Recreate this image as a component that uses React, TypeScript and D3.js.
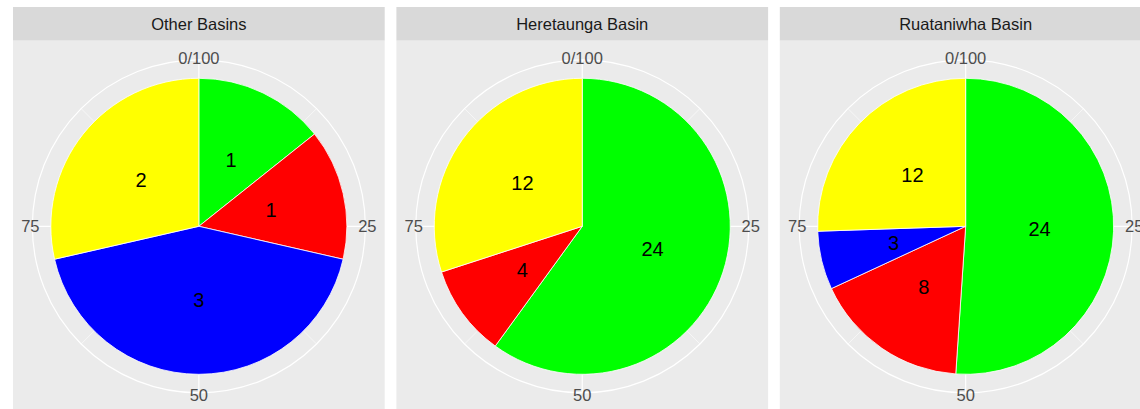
import React from "react";
import * as d3 from "d3";

const facets = ["Other Basins", "Heretaunga Basin", "Ruataniwha Basin"];
const categories = ["Green", "Red", "Blue", "Yellow"];
const categoryColors = ["#00FF00", "#FF0000", "#0000FF", "#FFFF00"];
const otherBasins = [1, 1, 3, 2];
const heretaunga = [24, 4, 0, 12];
const ruataniwha = [24, 8, 3, 12];
const facetValues = [otherBasins, heretaunga, ruataniwha];
const majorTicks = [0, 25, 50, 75];
const majorTickLabels = ["0/100", "25", "50", "75"];
const minorTicks = [12.5, 37.5, 62.5, 87.5];

const W = 1140;
const H = 409;
const panelX0 = 13;
const panelW = 371.7;
const panelGap = 11.7;
const stripTop = 7;
const stripBottom = 40.7;
const panelBottom = 412;
const cyPie = 226.3;
const pieR = 148;
const gridR = 166.5;
const labelR = 168.5;

export default function App() {
  const theta = d3.scaleLinear().domain([0, 100]).range([0, 2 * Math.PI]);
  const color = d3.scaleOrdinal<string, string>().domain(categories).range(categoryColors);
  const pie = d3
    .pie<{ cat: string; v: number }>()
    .sort(null)
    .value((d) => d.v)
    .startAngle(0)
    .endAngle(2 * Math.PI);
  const arc = d3.arc<d3.PieArcDatum<{ cat: string; v: number }>>().innerRadius(0).outerRadius(pieR);

  return (
    <svg
      width={W}
      height={H}
      style={{ position: "absolute", left: 0, top: 0, fontFamily: "'Liberation Sans', Arial, sans-serif" }}
    >
      <rect x={0} y={0} width={W} height={H} fill="#FFFFFF" />
      {facets.map((name, i) => {
        const x0 = panelX0 + i * (panelW + panelGap);
        const cx = x0 + panelW / 2;
        const data = categories.map((c, k) => ({ cat: c, v: facetValues[i][k] }));
        const arcs = pie(data);
        return (
          <g key={name}>
            <rect x={x0} y={stripTop} width={panelW} height={stripBottom - stripTop} fill="#D9D9D9" />
            <text
              x={cx}
              y={(stripTop + stripBottom) / 2}
              textAnchor="middle"
              dominantBaseline="central"
              fontSize={16.5}
              fill="#1A1A1A"
            >
              {name}
            </text>
            <rect x={x0} y={stripBottom} width={panelW} height={panelBottom - stripBottom} fill="#EBEBEB" />
            <g transform={`translate(${cx},${cyPie})`}>
              {minorTicks.map((t) => (
                <line
                  key={"mi" + t}
                  x1={0}
                  y1={0}
                  x2={gridR * Math.sin(theta(t))}
                  y2={-gridR * Math.cos(theta(t))}
                  stroke="#FFFFFF"
                  strokeWidth={0.6}
                />
              ))}
              {majorTicks.map((t) => (
                <line
                  key={"ma" + t}
                  x1={0}
                  y1={0}
                  x2={gridR * Math.sin(theta(t))}
                  y2={-gridR * Math.cos(theta(t))}
                  stroke="#FFFFFF"
                  strokeWidth={1.2}
                />
              ))}
              <circle r={gridR} fill="none" stroke="#FFFFFF" strokeWidth={1.2} />
              {arcs.map((a) =>
                a.data.v > 0 ? (
                  <path key={a.data.cat} d={arc(a) || ""} fill={color(a.data.cat)} stroke="#FFFFFF" strokeWidth={0.8} />
                ) : null
              )}
              {arcs.map((a) => {
                if (a.data.v <= 0) return null;
                const [lx, ly] = arc.centroid(a);
                return (
                  <text
                    key={"l" + a.data.cat}
                    x={lx}
                    y={ly}
                    textAnchor="middle"
                    dominantBaseline="central"
                    fontSize={20}
                    fill="#000000"
                  >
                    {a.data.v}
                  </text>
                );
              })}
              {majorTicks.map((t, k) => (
                <text
                  key={"t" + t}
                  x={labelR * Math.sin(theta(t))}
                  y={-labelR * Math.cos(theta(t))}
                  textAnchor="middle"
                  dominantBaseline="central"
                  fontSize={16.5}
                  fill="#4D4D4D"
                >
                  {majorTickLabels[k]}
                </text>
              ))}
            </g>
          </g>
        );
      })}
    </svg>
  );
}
